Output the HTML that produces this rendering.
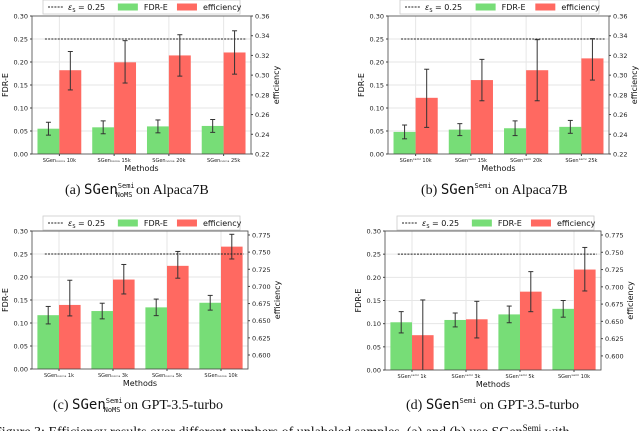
<!DOCTYPE html>
<html><head><meta charset="utf-8"><style>
html,body{margin:0;padding:0;background:#fff;}
svg{display:block;font-family:"DejaVu Sans","Liberation Sans",sans-serif;}
.cap{font-family:"Liberation Serif",serif;font-size:14px;fill:#111;}
.mono{font-family:"DejaVu Sans Mono","Liberation Mono",monospace;}
</style></head><body>
<svg id="fig" width="640" height="431" viewBox="0 0 640 431" xmlns="http://www.w3.org/2000/svg">
<text class="cap" x="65" y="194">(a) <tspan class="mono">SGen</tspan><tspan class="mono" font-size="7" dy="-6">Semi</tspan><tspan class="mono" font-size="7" dx="-19" dy="9">NoMS</tspan><tspan dy="-3"> on Alpaca7B</tspan></text>
<text class="cap" x="421" y="194">(b) <tspan class="mono">SGen</tspan><tspan class="mono" font-size="7" dy="-6">Semi</tspan><tspan dy="6"> on Alpaca7B</tspan></text>
<text class="cap" x="53" y="409">(c) <tspan class="mono">SGen</tspan><tspan class="mono" font-size="7" dy="-6">Semi</tspan><tspan class="mono" font-size="7" dx="-19" dy="9">NoMS</tspan><tspan dy="-3"> on GPT-3.5-turbo</tspan></text>
<text class="cap" x="406" y="409">(d) <tspan class="mono">SGen</tspan><tspan class="mono" font-size="7" dy="-6">Semi</tspan><tspan dy="6"> on GPT-3.5-turbo</tspan></text>
<text class="cap" x="-6" y="436">Figure 3: Efficiency results over different numbers of unlabeled samples. (a) and (b) use SGen<tspan font-size="9" dy="-5">Semi</tspan><tspan dy="5"> with</tspan></text>
</svg>
<script>
const labelsA=["10k","15k","20k","25k"];
const labelsC=["1k","3k","5k","10k"];
const fdrA=[0.055,0.058,0.060,0.061];
const fdrErrA=[0.014,0.014,0.014,0.014];
const effA=[0.305,0.313,0.320,0.323];
const effLoA=[0.285,0.292,0.299,0.301];
const effHiA=[0.324,0.335,0.341,0.345];
const fdrB=[0.048,0.053,0.056,0.059];
const fdrErrB=[0.015,0.013,0.016,0.014];
const effB=[0.277,0.295,0.305,0.317];
const effLoB=[0.247,0.274,0.274,0.295];
const effHiB=[0.306,0.316,0.336,0.337];
const fdrC=[0.117,0.126,0.134,0.144];
const fdrErrC=[0.019,0.017,0.018,0.016];
const effC=[0.673,0.710,0.730,0.758];
const effLoC=[0.657,0.689,0.712,0.740];
const effHiC=[0.709,0.732,0.751,0.776];
const fdrD=[0.103,0.108,0.120,0.132];
const fdrErrD=[0.023,0.015,0.018,0.018];
const effD=[0.630,0.653,0.693,0.725];
const effLoD=[0.579,0.626,0.664,0.694];
const effHiD=[0.681,0.679,0.722,0.757];
const leftTicks=[0,0.05,0.10,0.15,0.20,0.25,0.30];
const rightTicksAB=[0.22,0.24,0.26,0.28,0.30,0.32,0.34,0.36];
const rightTicksCD=[0.600,0.625,0.650,0.675,0.700,0.725,0.750,0.775];
const epsilon=0.25;

const NS="http://www.w3.org/2000/svg";
const svg=document.getElementById('fig');
function el(tag,attrs,parent){const e=document.createElementNS(NS,tag);for(const k in attrs)e.setAttribute(k,attrs[k]);(parent||svg).appendChild(e);return e;}

function panel(o){
  const g=el('g',{});
  
  
  const x0=o.x0,x1=o.x1,y0=o.y0,y1=o.y1;
  const yL=v=>y1-(v-0)/(0.30)*(y1-y0);
  const yR=v=>y1-(v-o.rmin)/(o.rmax-o.rmin)*(y1-y0);
  const n=o.labels.length, step=(x1-x0)/n;
  const cx=i=>x0+step*(i+0.5);
  const bw=step*0.4;
  // grid
  leftTicks.forEach(t=>{const l=el('line',{x1:x0,x2:x1,y1:yL(t),y2:yL(t),stroke:'#e6e6e6','stroke-width':1},g);});
  for(let i=0;i<n;i++){el('line',{x1:cx(i),x2:cx(i),y1:y0,y2:y1,stroke:'#e6e6e6','stroke-width':1},g);}
  // bars
  for(let i=0;i<n;i++){
    const gb=el('rect',{x:cx(i)-bw,y:yL(o.fdr[i]),width:bw,height:y1-yL(o.fdr[i]),fill:'#77dd77'},g);
    
    
    const rt=yR(o.eff[i]);
    const rb=el('rect',{x:cx(i),y:rt,width:bw,height:y1-rt,fill:'#ff6961'},g);
    
    
  }
  function err(x,a,b){
    const t=Math.max(a,y0), bt=Math.min(b,y1);
    el('line',{x1:x,x2:x,y1:t,y2:bt,stroke:'#333','stroke-width':1},g);
    el('line',{x1:x-2.5,x2:x+2.5,y1:t,y2:t,stroke:'#333','stroke-width':1},g);
    if(b<=y1)el('line',{x1:x-2.5,x2:x+2.5,y1:bt,y2:bt,stroke:'#333','stroke-width':1},g);
  }
  for(let i=0;i<n;i++){
    err(cx(i)-bw/2,yL(o.fdr[i]+o.fdrErr[i]),yL(o.fdr[i]-o.fdrErr[i]));
    err(cx(i)+bw/2,yR(o.hi[i]),yR(o.lo[i]));
  }
  // epsilon line
  const d=el('line',{x1:x0+step*0.2+2,x2:x1-step*0.2+(x1-x0)*0.03,y1:yL(epsilon),y2:yL(epsilon),stroke:'#222','stroke-width':1,'stroke-dasharray':'2,1.2'},g);
  
  
  // frame
  el('rect',{x:x0,y:y0,width:x1-x0,height:y1-y0,fill:'none',stroke:'#444','stroke-width':0.8},g);
  // left ticks
  leftTicks.forEach(t=>{
    el('line',{x1:x0-2,x2:x0,y1:yL(t),y2:yL(t),stroke:'#444'},g);
    const tx=el('text',{x:x0-4,y:yL(t)+2.5,'font-size':6.5,'text-anchor':'end',fill:'#222'},g);tx.textContent=t.toFixed(2);
  });
  o.rticks.forEach(t=>{
    el('line',{x1:x1,x2:x1+2,y1:yR(t),y2:yR(t),stroke:'#444'},g);
    const tx=el('text',{x:x1+4,y:yR(t)+2.5,'font-size':6.5,fill:'#222'},g);tx.textContent=t.toFixed(o.rdec);
  });
  const yl=el('text',{x:0,y:0,'font-size':8,'text-anchor':'middle',fill:'#111',transform:`translate(${x0-24},${(y0+y1)/2}) rotate(-90)`},g);yl.textContent='FDR-E';
  
  const yr=el('text',{x:0,y:0,'font-size':8,'text-anchor':'middle',fill:'#111',transform:`translate(${x1+(o.rdec==3?32:28)},${(y0+y1)/2}) rotate(-90)`},g);yr.textContent='efficiency';
  
  // x labels
  for(let i=0;i<n;i++){
    el('line',{x1:cx(i),x2:cx(i),y1:y1,y2:y1+2,stroke:'#444'},g);
    const tx=el('text',{x:cx(i),y:y1+8,'font-size':5,'text-anchor':'middle',fill:'#222'},g);
    tx.textContent='SGen'+(o.noms?'ₙₒₘₛ':'ˢᵉᵐⁱ')+' '+o.labels[i];
  }
  const xl=el('text',{x:(x0+x1)/2,y:y1+17,'font-size':8,'text-anchor':'middle',fill:'#111'},g);xl.textContent='Methods';
  
  // legend
  const lg=el('g',{},g);
  
  
  const lx=o.lx,lw=o.lw,ly=o.ly;
  el('rect',{x:lx,y:ly,width:lw,height:14,fill:'#fff',stroke:'#ccc','stroke-width':0.8},lg);
  el('line',{x1:lx+5,x2:lx+20,y1:ly+7,y2:ly+7,stroke:'#222','stroke-dasharray':'2,1.2'},lg);
  const t1=el('text',{x:lx+25,y:ly+10,'font-size':8,fill:'#111'},lg);t1.innerHTML='<tspan font-style="italic">ε</tspan><tspan font-size="5" dy="2">S</tspan><tspan dy="-2"> = 0.25</tspan>';
  el('rect',{x:lx+lw*0.38,y:ly+3.5,width:20,height:7,fill:'#77dd77'},lg);
  const t2=el('text',{x:lx+lw*0.38+26,y:ly+10,'font-size':8,fill:'#111'},lg);t2.textContent='FDR-E';
  el('rect',{x:lx+lw*0.68,y:ly+3.5,width:20,height:7,fill:'#ff6961'},lg);
  const t3=el('text',{x:lx+lw*0.68+26,y:ly+10,'font-size':8,fill:'#111'},lg);t3.textContent='efficiency';
}
panel({name:'panel-a',x0:32,x1:251,y0:16,y1:154,rmin:0.22,rmax:0.36,rticks:rightTicksAB,rdec:2,labels:labelsA,fdr:fdrA,fdrErr:fdrErrA,eff:effA,lo:effLoA,hi:effHiA,noms:true,lx:43,lw:197,ly:0});
panel({name:'panel-b',x0:388,x1:609,y0:16,y1:154,rmin:0.22,rmax:0.36,rticks:rightTicksAB,rdec:2,labels:labelsA,fdr:fdrB,fdrErr:fdrErrB,eff:effB,lo:effLoB,hi:effHiB,noms:false,lx:400,lw:199,ly:0});
panel({name:'panel-c',x0:32,x1:248,y0:231,y1:369,rmin:0.5796,rmax:0.7808,rticks:rightTicksCD,rdec:3,labels:labelsC,fdr:fdrC,fdrErr:fdrErrC,eff:effC,lo:effLoC,hi:effHiC,noms:true,lx:43,lw:197,ly:216});
panel({name:'panel-d',x0:385,x1:601,y0:231,y1:370,rmin:0.5796,rmax:0.7808,rticks:rightTicksCD,rdec:3,labels:labelsC,fdr:fdrD,fdrErr:fdrErrD,eff:effD,lo:effLoD,hi:effHiD,noms:false,lx:397,lw:197,ly:216});
</script>
</body></html>
